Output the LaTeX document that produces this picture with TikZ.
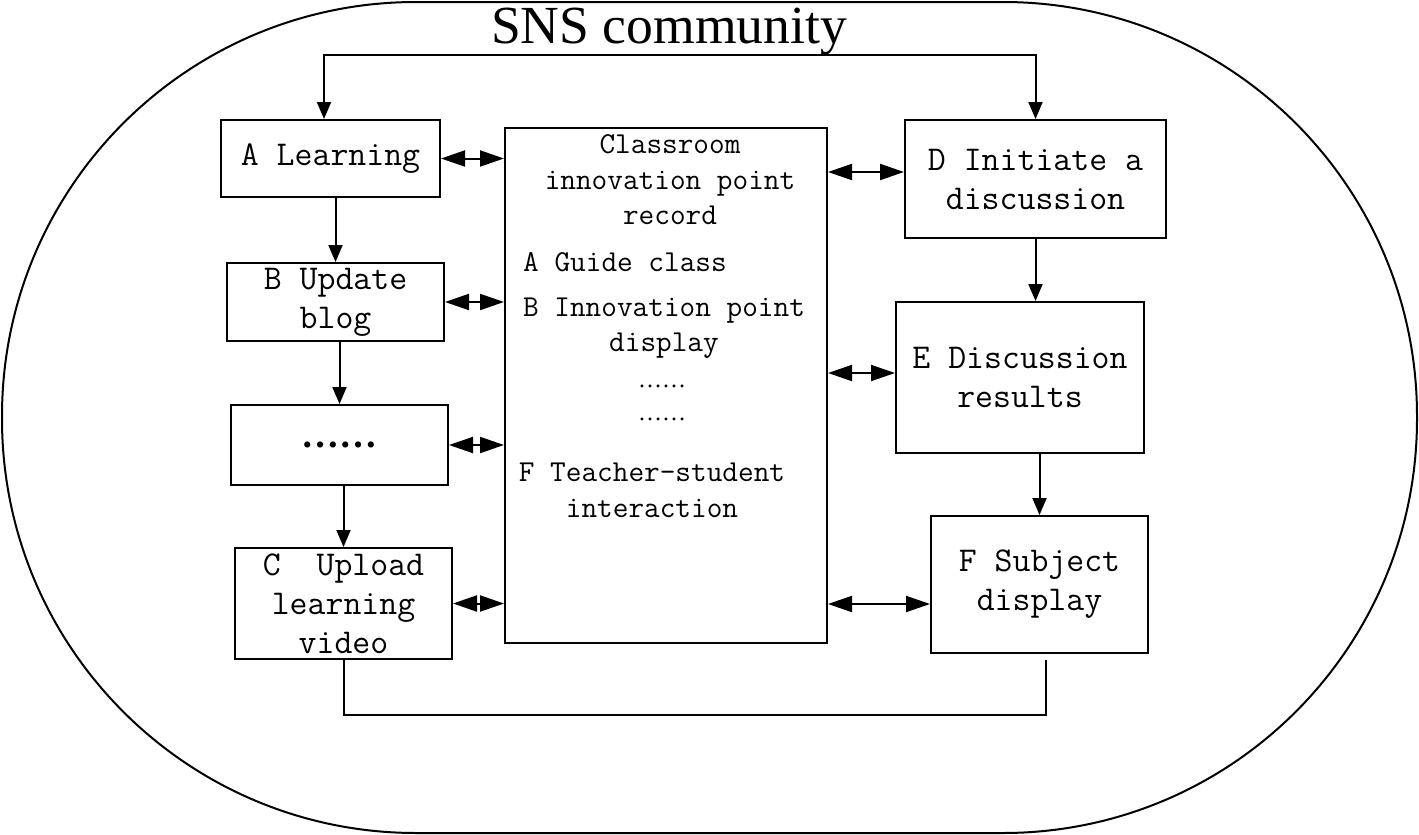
\documentclass[tikz,border=0pt]{standalone}
\usepackage{fontspec}
\newfontfamily\titlefont{Liberation Serif}
\usepackage{tikz}
\usetikzlibrary{arrows.meta}
\tikzset{
  box/.style={draw, line width=1pt, align=center, inner sep=0pt,
    font=\fontsize{17.4}{19.5}\ttfamily},
  inner/.style={align=center, inner sep=0pt, font=\fontsize{15.2}{17.8}\ttfamily},
  flow/.style={line width=1pt, -{Triangle[length=8.5pt,width=7pt]}},
  twoway/.style={line width=1pt, {Triangle[length=8.5pt,width=7pt]}-{Triangle[length=8.5pt,width=7pt]}},
  link/.style={line width=1pt, {Triangle[length=12pt,width=8pt]}-{Triangle[length=12pt,width=8pt]}},
}
\begin{document}
\begin{tikzpicture}[x=0.5pt,y=-0.5pt]
\useasboundingbox (0,0) rectangle (1419,835);
\draw[line width=1pt, rounded corners=207pt] (2,2) rectangle (1417,833);
\node[font=\fontsize{26.8}{28}\titlefont, anchor=base] (title) at (669,43) {SNS community};
\node[box, minimum width=109.5pt, minimum height=38.5pt] (A) at (330.5,158.5) {A Learning};
\node[box, minimum width=108.5pt, minimum height=39pt] (B) at (335.5,302) {B Update\\blog};
\node[box, minimum width=108.5pt, minimum height=40pt] (dots) at (339.5,445) {\fontsize{19}{20}\titlefont\bfseries ……};
\node[box, minimum width=108.5pt, minimum height=55.5pt] (C) at (343.5,603.5) {C\ \ Upload\\learning\\video};
\node[box, minimum width=161pt, minimum height=257.5pt] (mid) at (666,385.5) {};
\node[box, minimum width=130.5pt, minimum height=59pt] (D) at (1035.5,179) {D Initiate a\\discussion};
\node[box, minimum width=124pt, minimum height=75.5pt] (E) at (1020,377.5) {E Discussion\\results};
\node[box, minimum width=108.5pt, minimum height=68.5pt] (F) at (1039.5,584.5) {F Subject\\display};
\node[inner] (record) at (670,180) {Classroom\\innovation point\\record};
\node[inner] (guide) at (625,262) {A Guide class};
\node[inner] (show) at (664,328) {B Innovation point\\display};
\node[inner, font=\fontsize{12}{12}\titlefont] (more1) at (662,386) {……};
\node[inner, font=\fontsize{12}{12}\titlefont] (more2) at (662,419) {……};
\node[inner] (talk) at (652,490) {F Teacher-student\\interaction};
\coordinate (bus) at (680,55);
\draw[twoway] (A.north -| 324,0) |- (bus) -| (D.north);
\draw[flow] (B.north |- A.south) -- (B.north);
\draw[flow] (dots.north |- B.south) -- (dots.north);
\draw[flow] (C.north |- dots.south) -- (C.north);
\draw[flow] (D.south) -- (D.south |- E.north);
\draw[flow] (F.north |- E.south) -- (F.north);
\draw[link] (A.east) -- (A.east -| mid.west);
\draw[link] (B.east) -- (B.east -| mid.west);
\draw[link] (dots.east) -- (dots.east -| mid.west);
\draw[link] (C.east) -- (C.east -| mid.west);
\draw[link] ([yshift=3.5pt]D.west -| mid.east) -- ([yshift=3.5pt]D.west);
\draw[link] ([yshift=2.25pt]E.west -| mid.east) -- ([yshift=2.25pt]E.west);
\draw[link] ([yshift=-9.75pt]F.west -| mid.east) -- ([yshift=-9.75pt]F.west);
\coordinate (loopB) at (700,715);
\coordinate (loopE) at (1046,660);
\draw[line width=1pt] (C.south) |- (loopB) -| (loopE);
\end{tikzpicture}
\end{document}
